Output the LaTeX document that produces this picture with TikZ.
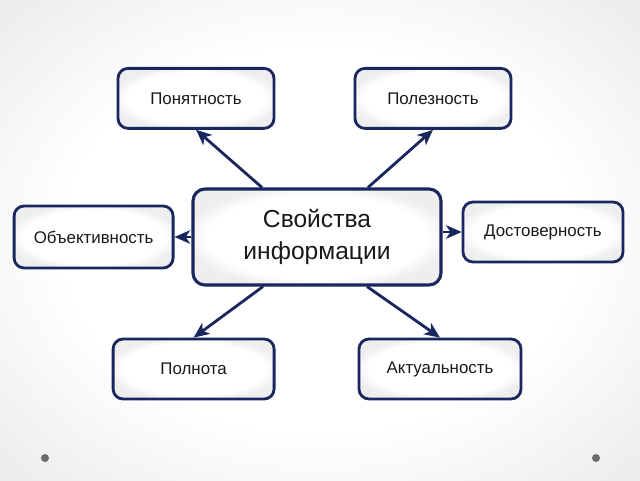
\documentclass[tikz,border=0pt]{standalone}
\usepackage{fontspec}
\setmainfont{Liberation Sans}
\usetikzlibrary{arrows.meta}
\definecolor{navy}{RGB}{26,38,94}
\pgfdeclareradialshading{slide}{\pgfpoint{0bp}{0bp}}{color(0bp)=(white); color(20bp)=(white); color(35bp)=(gray!15); color(50bp)=(gray!15)}
\pgfdeclareradialshading{box}{\pgfpoint{0bp}{0bp}}{color(0bp)=(white); color(22bp)=(white); color(27bp)=(gray!13); color(50bp)=(gray!13)}
\begin{document}
\begin{tikzpicture}
\tikzstyle{main} = [draw=navy,line width=2.2pt,rounded corners=0.3cm,shading=box,minimum width=6.2cm,minimum height=2.4cm,align=center,text=black!90,font=\fontsize{17.5}{23}\selectfont];
\tikzstyle{prop} = [draw=navy,line width=2pt,rounded corners=0.25cm,shading=box,minimum height=1.5cm,text=black!90,font=\fontsize{12}{14}\selectfont];
\tikzstyle{arr} = [line width=2pt,color=navy,-{Stealth[length=11pt,width=9.5pt,inset=3pt]}];
\tikzstyle{dot} = [circle,fill=gray!85!black,inner sep=0,minimum size=0.2cm];
\useasboundingbox (0,0) rectangle (16,12);
\shade [shading=slide] (0,0) rectangle (16,12);
\node [main] (v0) at (7.925,6.075) {Свойства\\информации};
\node [prop,minimum width=3.9cm] (v1) at (4.9,9.54) {Понятность};
\node [prop,minimum width=3.9cm] (v2) at (10.825,9.54) {Полезность};
\node [prop,minimum width=3.975cm,minimum height=1.55cm] (v3) at (2.34,6.075) {Объективность};
\node [prop,minimum width=4cm] (v4) at (13.575,6.2) {Достоверность};
\node [prop,minimum width=4.025cm] (v5) at (4.84,2.775) {Полнота};
\node [prop,minimum width=4.05cm] (v6) at (11,2.775) {Актуальность};

\node [dot] (d1) at (1.125,0.55) {};
\node [dot] (d2) at (14.9,0.55) {};
\draw [arr] ([xshift=-1.375cm]v0.north) -- (v1.south);
\draw [arr] ([xshift=1.275cm]v0.north) -- (v2.south);
\draw [arr] (v0.west) -- (v3.east);
\draw [arr] (v4.west -| v0.east) -- (v4.west);
\draw [arr] ([xshift=-1.35cm]v0.south) -- (v5.north);
\draw [arr] ([xshift=1.25cm]v0.south) -- (v6.north);
\end{tikzpicture}
\end{document}
